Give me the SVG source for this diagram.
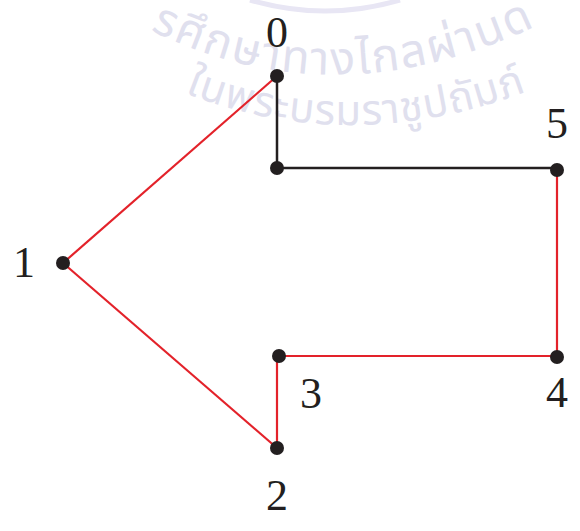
<svg xmlns="http://www.w3.org/2000/svg" width="580" height="531" viewBox="0 0 580 531">
<style>
.wm{font-family:"Noto Sans Thai","Noto Sans","DejaVu Sans",sans-serif;fill:#e0e0ee}
.lbl{font-family:"Liberation Serif","DejaVu Serif",serif;font-size:44px;fill:#231f20;text-anchor:middle}
.red{stroke:#e3222a;stroke-width:2.2;fill:none}
.blk{stroke:#231f20;stroke-width:2.5;fill:none}
.dot{fill:#231f20}
</style>
<defs>
<path id="arc1" d="M150,30 Q340,124 548,20"/>
<path id="arc2" d="M185,93 Q355,160 538,87"/>
</defs>
<g id="watermark">
<path d="M250,0 Q325,22 400,0" stroke="#e8e6f4" stroke-width="5" fill="none"/>
<text class="wm" font-size="46" letter-spacing="2"><textPath href="#arc1">รศึกษาทางไกลผ่านด</textPath></text>
<text class="wm" font-size="42" letter-spacing="1"><textPath href="#arc2">ในพระบรมราชูปถัมภ์</textPath></text>
</g>
<g id="connectors">
<polyline class="blk" points="277,76 277,168 557,168"/>
<line class="red" x1="277" y1="76" x2="63" y2="263"/>
<line class="red" x1="63" y1="263" x2="277" y2="448"/>
<polyline class="red" points="277,448 277,356 557,356 557,168"/>
</g>
<g id="n0"><circle class="dot" cx="277" cy="76" r="7"/><text class="lbl" x="277" y="47">0</text></g>
<g id="n1"><circle class="dot" cx="63" cy="263" r="7"/><text class="lbl" x="24" y="277">1</text></g>
<g id="n2"><circle class="dot" cx="277" cy="448" r="7"/><text class="lbl" x="277" y="510">2</text></g>
<g id="n3"><circle class="dot" cx="279" cy="356" r="7"/><text class="lbl" x="311" y="408">3</text></g>
<g id="n4"><circle class="dot" cx="557" cy="357" r="7"/><text class="lbl" x="557" y="407">4</text></g>
<g id="n5"><circle class="dot" cx="557" cy="170" r="7"/><text class="lbl" x="557" y="138">5</text></g>
<g id="junction"><circle class="dot" cx="277" cy="168" r="7"/></g>
</svg>
